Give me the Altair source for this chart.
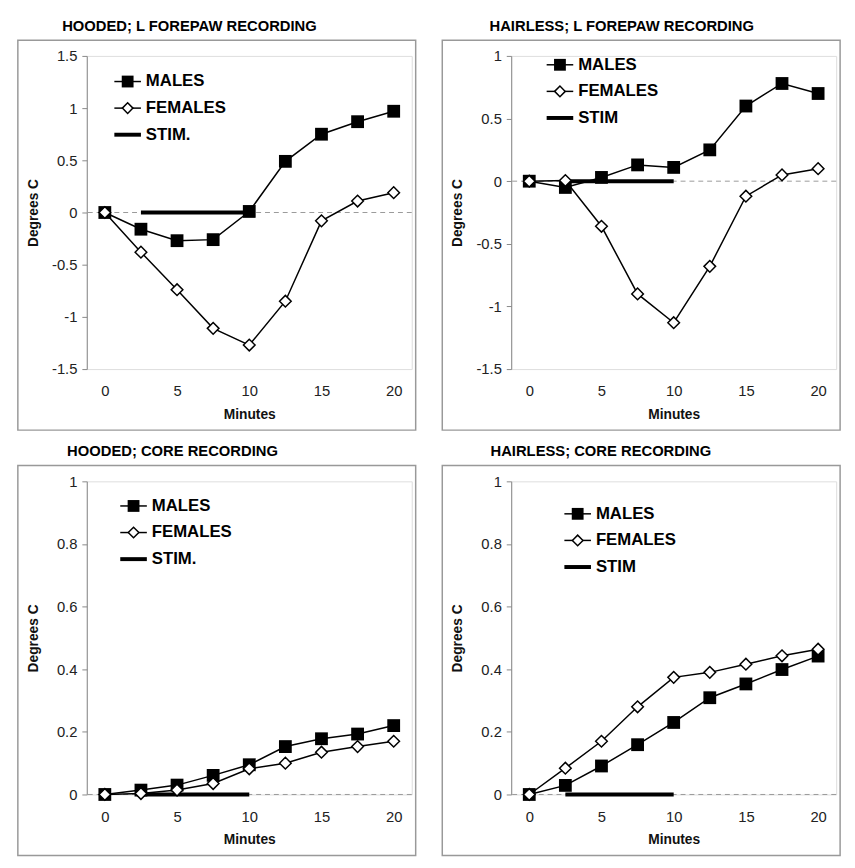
import altair as alt
import pandas as pd

# ---------------- data ----------------
minutes = [0, 2.5, 5, 7.5, 10, 12.5, 15, 17.5, 20]

hooded_paw_males = [0, -0.16, -0.27, -0.26, 0.01, 0.49, 0.75, 0.87, 0.97]
hooded_paw_females = [0, -0.38, -0.74, -1.11, -1.27, -0.85, -0.08, 0.11, 0.19]

hairless_paw_males = [0, -0.05, 0.03, 0.13, 0.11, 0.25, 0.60, 0.78, 0.70]
hairless_paw_females = [0, 0.005, -0.36, -0.90, -1.13, -0.68, -0.12, 0.05, 0.10]

hooded_core_males = [0, 0.014, 0.03, 0.061, 0.095, 0.153, 0.178, 0.193, 0.22]
hooded_core_females = [0, 0.003, 0.014, 0.035, 0.082, 0.10, 0.135, 0.153, 0.17]

hairless_core_males = [0, 0.029, 0.091, 0.159, 0.23, 0.309, 0.353, 0.399, 0.442]
hairless_core_females = [0, 0.084, 0.17, 0.28, 0.374, 0.39, 0.416, 0.443, 0.464]

stim_start = [2.5]
stim_end = [10]

titles = [
    "HOODED; L FOREPAW RECORDING",
    "HAIRLESS; L FOREPAW RECORDING",
    "HOODED; CORE RECORDING",
    "HAIRLESS; CORE RECORDING",
]
legend_labels_a = ["MALES", "FEMALES", "STIM."]
legend_labels_b = ["MALES", "FEMALES", "STIM"]

paw_ticks = [-1.5, -1, -0.5, 0, 0.5, 1, 1.5]
core_ticks = [0, 0.2, 0.4, 0.6, 0.8, 1]
x_ticks = [0, 5, 10, 15, 20]

# ---------------- style ----------------
W, H = 330, 318
FONT = "Liberation Sans"
ROW = 27
one = alt.Data(values=[{"k": 1}])


def panel(title, males, females, ydom, yticks, labels, lx, ly, title_dx):
    df_m = pd.DataFrame({"minutes": minutes, "value": males})
    df_f = pd.DataFrame({"minutes": minutes, "value": females})
    df_s = pd.DataFrame({"start": stim_start, "end": stim_end, "y": [0]})

    xs = alt.Scale(domain=[-1.25, 21.25], nice=False, zero=False)
    ys = alt.Scale(domain=ydom, nice=False, zero=False)
    xax = alt.Axis(values=x_ticks, domain=False, ticks=False, grid=False,
                   labelPadding=15, labelFontSize=15, labelFont=FONT,
                   labelColor="#222", title="Minutes", titleFont=FONT,
                   titleFontSize=14, titleFontWeight="bold",
                   titleColor="#111", titleX=W / 2, titleY=46,
                   titleBaseline="middle", titleAlign="center")
    yax = alt.Axis(values=yticks, grid=False, domainColor="#888",
                   tickColor="#888", tickSize=5, labelPadding=5,
                   labelExpr="datum.value + ''",
                   labelFontSize=15, labelFont=FONT, labelColor="#222",
                   title="Degrees C", titleFont=FONT, titleFontSize=14,
                   titleFontWeight="bold", titleColor="#111",
                   titleX=-54, titleY=H / 2, titleAngle=270,
                   titleBaseline="middle", titleAlign="center")

    frame = alt.Chart(one).mark_rect(
        fillOpacity=0, stroke="#999", strokeWidth=1.5
    ).encode(x=alt.value(-70), x2=alt.value(W + 4),
             y=alt.value(-16), y2=alt.value(H + 62))

    zero = alt.Chart(one).mark_rule(
        color="#999", strokeDash=[5, 4], strokeWidth=1
    ).encode(y=alt.datum(0, scale=ys))

    stim = alt.Chart(df_s).mark_rule(color="black", strokeWidth=4).encode(
        x=alt.X("start:Q", scale=xs, axis=xax),
        x2="end:Q",
        y=alt.Y("y:Q", scale=ys, axis=yax),
    )

    m_line = alt.Chart(df_m).mark_line(color="black", strokeWidth=1.5).encode(
        x=alt.X("minutes:Q", scale=xs, axis=xax),
        y=alt.Y("value:Q", scale=ys, axis=yax),
    )
    m_pts = alt.Chart(df_m).mark_point(
        shape="square", filled=True, color="black", size=169, opacity=1
    ).encode(x="minutes:Q", y="value:Q")

    f_line = alt.Chart(df_f).mark_line(color="black", strokeWidth=1.5).encode(
        x="minutes:Q", y="value:Q"
    )
    f_pts = alt.Chart(df_f).mark_point(
        shape="diamond", filled=True, fill="white", stroke="black",
        strokeWidth=1.5, size=140, opacity=1
    ).encode(x="minutes:Q", y="value:Q")

    legend = []
    for i, lab in enumerate(labels):
        yy = ly + i * ROW
        sw = 4 if i == 2 else 1.5
        legend.append(alt.Chart(one).mark_rule(color="black", strokeWidth=sw).encode(
            x=alt.value(lx), x2=alt.value(lx + 27), y=alt.value(yy)))
        if i == 0:
            legend.append(alt.Chart(one).mark_point(
                shape="square", filled=True, color="black", size=144, opacity=1
            ).encode(x=alt.value(lx + 13.5), y=alt.value(yy)))
        elif i == 1:
            legend.append(alt.Chart(one).mark_point(
                shape="diamond", filled=True, fill="white", stroke="black",
                strokeWidth=1.5, size=115, opacity=1
            ).encode(x=alt.value(lx + 13.5), y=alt.value(yy)))
        legend.append(alt.Chart(one).mark_text(
            align="left", baseline="middle", font=FONT, fontSize=17,
            fontWeight="bold", color="black"
        ).encode(x=alt.value(lx + 32), y=alt.value(yy), text=alt.value(lab)))

    return alt.layer(frame, zero, stim, m_line, m_pts, f_line, f_pts, *legend).properties(
        width=W, height=H,
        title=alt.TitleParams(title, anchor="start", frame="group", dx=title_dx,
                              font=FONT, fontSize=15, fontWeight="bold",
                              color="black", offset=6),
    )


p1 = panel(titles[0], hooded_paw_males, hooded_paw_females, [-1.5, 1.5],
           paw_ticks, legend_labels_a, 28, 26, -25)
p2 = panel(titles[1], hairless_paw_males, hairless_paw_females, [-1.5, 1],
           paw_ticks, legend_labels_b, 36, 9, -22)
p3 = panel(titles[2], hooded_core_males, hooded_core_females, [0, 1],
           core_ticks, legend_labels_a, 34, 25, -20)
p4 = panel(titles[3], hairless_core_males, hairless_core_females, [0, 1],
           core_ticks, legend_labels_b, 54, 33, -21)

chart = alt.vconcat(
    alt.hconcat(p1, p2, spacing=23),
    alt.hconcat(p3, p4, spacing=23),
    spacing=11,
).properties(
    padding={"left": 8, "top": 3, "right": 5, "bottom": 5}
).configure_view(strokeWidth=0).configure(background="white")

chart.save("out.html", embed_options={"renderer": "svg", "actions": False})
